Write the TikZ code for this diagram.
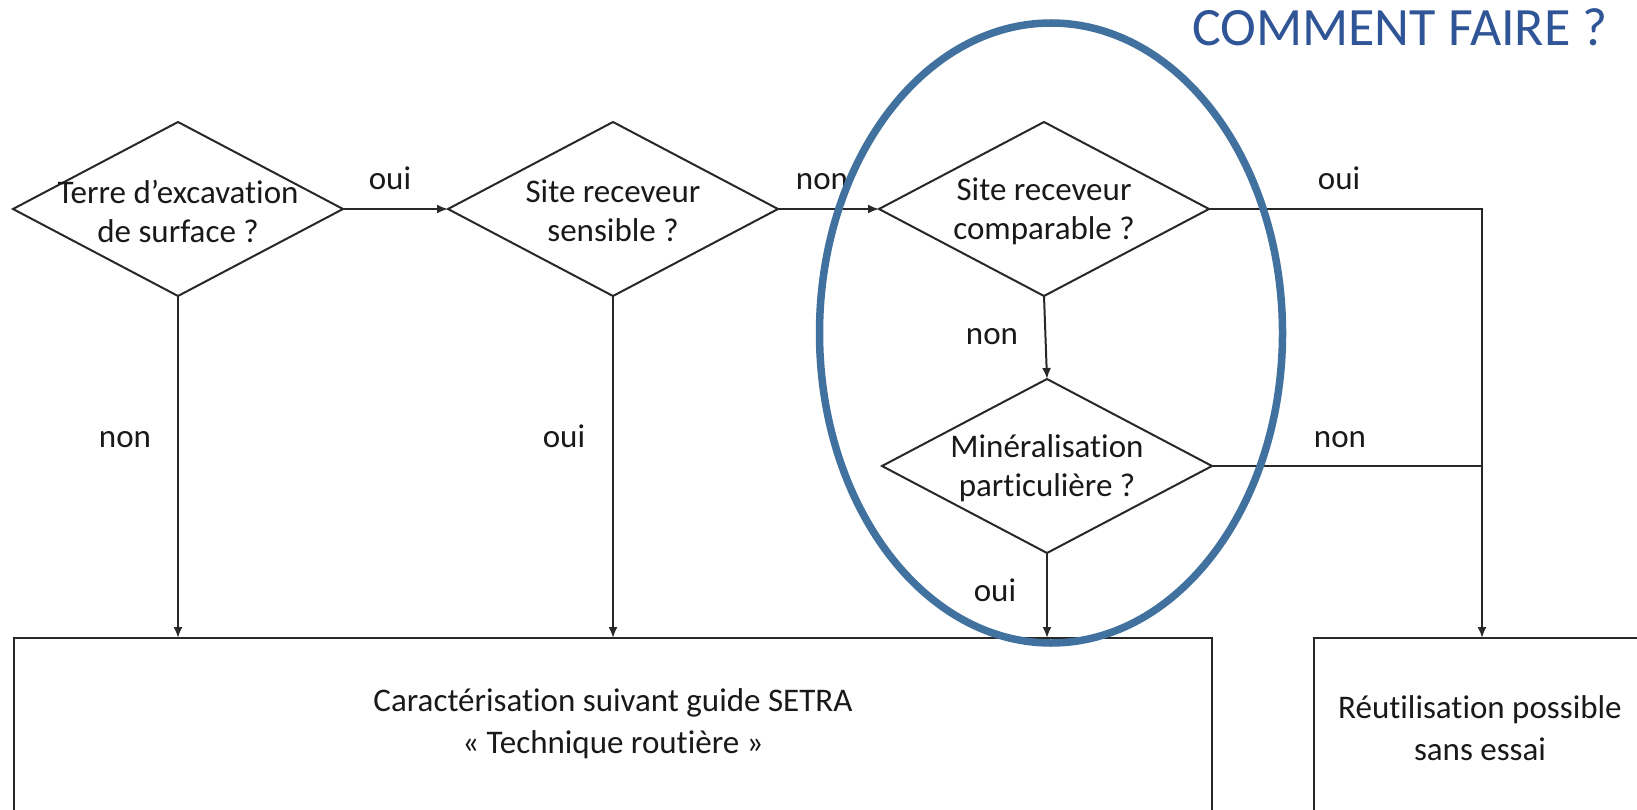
\documentclass[tikz,border=0pt]{standalone}
\usepackage{fontspec}
\setmainfont{Carlito}[Ligatures=NoCommon]
\usetikzlibrary{shapes.geometric,arrows.meta}
\definecolor{linegray}{RGB}{40,40,40}
\definecolor{textgray}{RGB}{25,25,25}
\definecolor{ringblue}{RGB}{65,113,158}
\definecolor{titleblue}{RGB}{47,85,151}
\tikzset{
  dia/.style={shape=diamond,draw=linegray,line width=2pt,minimum width=330pt,minimum height=174pt,inner sep=0pt,outer sep=0pt},
  box/.style={shape=rectangle,draw=linegray,line width=2pt,inner sep=0pt,outer sep=0pt},
  txt/.style={align=center,text=textgray,font=\fontsize{33}{39}\selectfont,inner sep=0pt},
  btxt/.style={align=center,text=textgray,font=\fontsize{33}{42}\selectfont,inner sep=0pt},
  lbl/.style={anchor=base,text=textgray,font=\fontsize{33}{37}\selectfont,inner sep=0pt},
  conn/.style={draw=linegray,line width=2pt},
  arr/.style={conn,-{Latex[length=11pt,width=9pt]}},
}
\begin{document}
\begin{tikzpicture}[x=1pt,y=-1pt]
\clip (0,0) rectangle (1637,810);
\fill[white] (0,0) rectangle (1637,810);
% decisions
\node[dia] (d1) at (178,209) {};
\node[dia] (d2) at (613,209) {};
\node[dia] (d3) at (1044,209) {};
\node[dia] (d4) at (1047,466) {};
\node[txt] (t1) at (178,211) {Terre d’excavation\\de surface ?};
\node[txt] (t2) at (613,211) {Site receveur\\sensible ?};
\node[txt] (t3) at (1044,211) {Site receveur\\comparable ?};
\node[txt] (t4) at (1047,468) {Minéralisation\\particulière ?};
% result boxes
\node[box,minimum width=1198pt,minimum height=262pt] (b1) at (613,769) {};
\node[box,minimum width=336pt,minimum height=262pt] (b2) at (1482,769) {};
\node[btxt] (bt1) at (613,724) {Caractérisation suivant guide SETRA\\« Technique routière »};
\node[btxt] (bt2) at (1480,728) {Réutilisation possible\\sans essai};
% connectors
\draw[arr] (d1.east) -- (d2.west);
\draw[arr] (d2.east) -- (d3.west);
\draw[arr] (d1.south) -- (d1.south |- b1.north);
\draw[arr] (d2.south) -- (d2.south |- b1.north);
\draw[arr] (d3.south) -- (d4.north);
\draw[arr] (d4.south) -- (d4.south |- b1.north);
\draw[arr] (d3.east) -| (b2.north);
\draw[conn] (d4.east) -- (d4.east -| b2.north);
% labels
\node[lbl] (l1) at (390,190) {oui};
\node[lbl] (l2) at (822,190) {non};
\node[lbl] (l3) at (1339,190) {oui};
\node[lbl] (l4) at (125,447) {non};
\node[lbl] (l5) at (564,447) {oui};
\node[lbl] (l6) at (992,344) {non};
\node[lbl] (l7) at (1340,447) {non};
\node[lbl] (l8) at (995,601) {oui};
% highlight ring
\node[shape=ellipse,draw=ringblue,line width=7.5pt,minimum width=463pt,minimum height=620pt,inner sep=0pt] (ring) at (1051,333) {};
% title
\node[anchor=base,text=titleblue,font=\fontsize{54}{60}\selectfont,inner sep=0pt] (title) at (1400,46) {COMMENT FAIRE ?};
\end{tikzpicture}
\end{document}
